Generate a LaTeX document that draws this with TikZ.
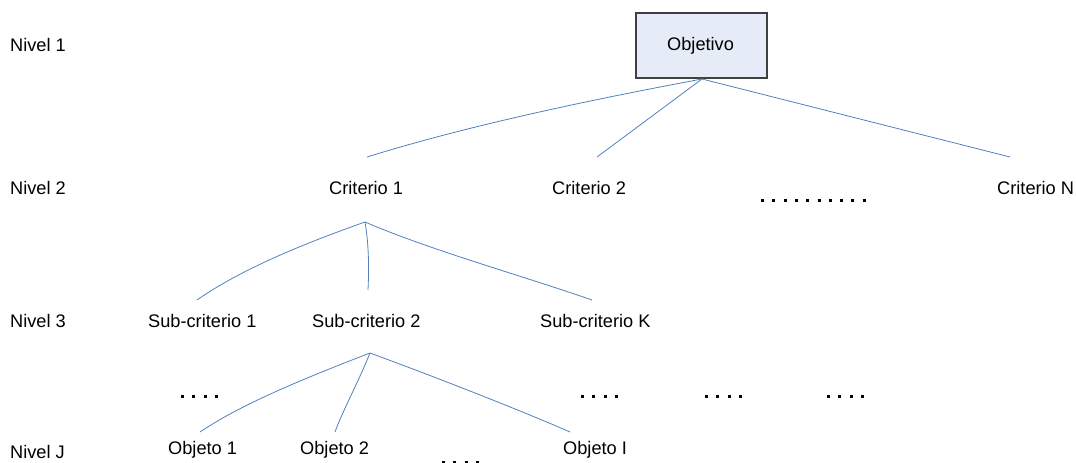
\documentclass[tikz,border=0pt]{standalone}
\usepackage{fontspec}
\setmainfont{Liberation Sans}
\definecolor{linkblue}{HTML}{4F81BD}
\definecolor{boxfill}{HTML}{E6ECF7}
\definecolor{boxline}{HTML}{404040}
\begin{document}
\begin{tikzpicture}[x=1pt,y=-1pt,
  lbl/.style={inner sep=0pt,anchor=west,font=\fontsize{18.2}{21}\selectfont},
  goal/.style={draw=boxline,line width=1.2pt,fill=boxfill,minimum width=131pt,minimum height=65pt,inner sep=0pt},
  link/.style={draw=linkblue,line width=0.8pt},
  dots/.style={line width=3pt,dash pattern=on 3pt off 8.3pt}]
\useasboundingbox (0,0) rectangle (1076,463);
% level labels
\node[lbl] (n1) at (10,45) {Nivel 1};
\node[lbl] (n2) at (10,188) {Nivel 2};
\node[lbl] (n3) at (10,321) {Nivel 3};
\node[lbl] (nj) at (10,452) {Nivel J};
% goal
\node[goal] (obj) at (701.5,45.5) {};
\node[lbl] (objt) at (667,46) {Objetivo};
% level 2
\node[lbl] (c1) at (329,188) {Criterio 1};
\node[lbl] (c2) at (552,188) {Criterio 2};
\node[lbl] (cn) at (997,188) {Criterio N};
% level 3
\node[lbl] (s1) at (148,321) {Sub-criterio 1};
\node[lbl] (s2) at (312,321) {Sub-criterio 2};
\node[lbl] (sk) at (540,321) {Sub-criterio K};
% level J
\node[lbl] (o1) at (168,450) {Objeto 1};
\node[lbl] (o2) at (300,450) {Objeto 2};
\node[lbl] (oi) at (563,450) {Objeto I};
% connector end points
\coordinate (objb) at (702,79);
\coordinate (c1t) at (367,157);
\coordinate (c2t) at (597,157);
\coordinate (cnt) at (1010,157);
\coordinate (c1b) at (365,222);
\coordinate (s1t) at (197,300);
\coordinate (s2t) at (368,290);
\coordinate (skt) at (592,300);
\coordinate (s2b) at (370,353);
\coordinate (o1t) at (200,432);
\coordinate (o2t) at (335,432);
\coordinate (oit) at (570,432);
% connectors
\draw[link] (objb) .. controls (590,100) and (470,125) .. (c1t);
\draw[link] (objb) -- (c2t);
\draw[link] (objb) -- (cnt);
\draw[link] (c1b) .. controls (300,245) and (240,270) .. (s1t);
\draw[link] (c1b) .. controls (369,245) and (369,270) .. (s2t);
\draw[link] (c1b) .. controls (430,250) and (520,275) .. (skt);
\draw[link] (s2b) .. controls (300,380) and (240,405) .. (o1t);
\draw[link] (s2b) .. controls (357,385) and (343,410) .. (o2t);
\draw[link] (s2b) .. controls (430,375) and (520,410) .. (oit);
% ellipsis dots
\coordinate (d1a) at (761,200); \coordinate (d1b) at (871,200);
\coordinate (d2a) at (181,396); \coordinate (d2b) at (226,396);
\coordinate (d3a) at (581,396); \coordinate (d3b) at (626,396);
\coordinate (d4a) at (705,396); \coordinate (d4b) at (750,396);
\coordinate (d5a) at (827,396); \coordinate (d5b) at (872,396);
\coordinate (d6a) at (442,462); \coordinate (d6b) at (487,462);
\draw[dots] (d1a) -- (d1b);
\draw[dots] (d2a) -- (d2b);
\draw[dots] (d3a) -- (d3b);
\draw[dots] (d4a) -- (d4b);
\draw[dots] (d5a) -- (d5b);
\draw[dots] (d6a) -- (d6b);
\end{tikzpicture}
\end{document}
